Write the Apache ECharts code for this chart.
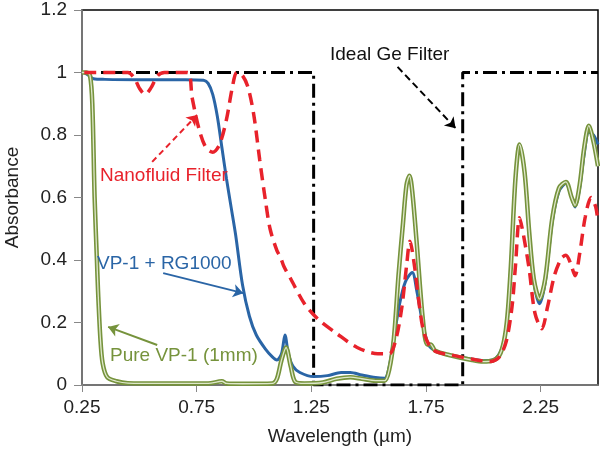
<!DOCTYPE html>
<html><head><meta charset="utf-8">
<script src="https://cdn.jsdelivr.net/npm/echarts@6/dist/echarts.min.js"></script>
<style>html,body{margin:0;padding:0;background:#fff}#c{width:600px;height:450px}</style>
</head><body><div id="c"></div>
<script>
// ---- data ----
var xTicks = [0.25, 0.75, 1.25, 1.75, 2.25];
var yTicks = [0, 0.2, 0.4, 0.6, 0.8, 1, 1.2];

var idealX = [0.25, 1.26, 1.26, 1.91, 1.91, 2.5];
var idealY = [1, 1, 0, 0, 1, 1];

var blueX = [0.26,0.28,0.30,0.35,0.5,0.7,0.78,0.80,0.82,0.84,0.86,0.88,0.90,0.92,0.95,0.98,1.01,1.05,1.08,1.10,1.12,1.135,1.15,1.17,1.20,1.26,1.32,1.38,1.42,1.47,1.53,1.57,1.59,1.61,1.635,1.66,1.69,1.71,1.735,1.76,1.79,1.85,1.95,2.0,2.04,2.07,2.09,2.105,2.12,2.14,2.158,2.18,2.20,2.22,2.245,2.27,2.30,2.33,2.36,2.385,2.40,2.42,2.44,2.46,2.48,2.50];
var blueY = [1.0,0.99,0.98,0.978,0.977,0.977,0.975,0.965,0.93,0.86,0.76,0.66,0.57,0.48,0.32,0.22,0.16,0.115,0.09,0.08,0.10,0.16,0.10,0.06,0.04,0.027,0.03,0.04,0.04,0.032,0.024,0.022,0.06,0.15,0.26,0.33,0.36,0.30,0.2,0.13,0.11,0.096,0.083,0.078,0.08,0.10,0.14,0.22,0.38,0.66,0.77,0.68,0.48,0.33,0.26,0.33,0.52,0.62,0.645,0.6,0.57,0.63,0.74,0.81,0.80,0.77];

var greenX = [0.25,0.27,0.285,0.295,0.305,0.315,0.32,0.33,0.34,0.36,0.40,0.45,0.6,0.8,0.86,0.88,0.95,1.08,1.10,1.12,1.14,1.16,1.18,1.22,1.30,1.36,1.42,1.47,1.53,1.57,1.59,1.61,1.63,1.65,1.665,1.678,1.69,1.71,1.735,1.755,1.77,1.79,1.85,1.95,2.0,2.04,2.07,2.09,2.105,2.12,2.14,2.158,2.18,2.20,2.22,2.245,2.27,2.30,2.33,2.36,2.385,2.40,2.42,2.44,2.46,2.48,2.50];
var greenY = [1.0,1.0,0.99,0.9,0.6,0.4,0.3,0.15,0.07,0.025,0.012,0.006,0.005,0.005,0.012,0.005,0.004,0.005,0.02,0.08,0.12,0.06,0.01,0.005,0.008,0.02,0.025,0.02,0.014,0.014,0.05,0.15,0.35,0.52,0.64,0.67,0.62,0.45,0.22,0.13,0.13,0.11,0.096,0.08,0.075,0.078,0.095,0.14,0.22,0.38,0.66,0.77,0.68,0.49,0.34,0.275,0.34,0.53,0.63,0.65,0.6,0.575,0.64,0.76,0.83,0.78,0.70];

var redX = [0.26,0.45,0.48,0.50,0.525,0.55,0.58,0.61,0.71,0.73,0.76,0.79,0.82,0.85,0.88,0.905,0.925,0.95,0.975,1.0,1.025,1.05,1.07,1.10,1.115,1.13,1.16,1.22,1.28,1.36,1.45,1.54,1.59,1.62,1.645,1.665,1.68,1.70,1.72,1.74,1.77,1.80,1.86,1.95,2.03,2.07,2.10,2.125,2.14,2.158,2.175,2.20,2.225,2.255,2.28,2.31,2.34,2.36,2.38,2.40,2.42,2.445,2.47,2.49,2.50];
var redY = [1.0,1.0,0.98,0.95,0.93,0.95,0.99,1.0,1.0,0.92,0.82,0.76,0.745,0.77,0.85,0.95,1.0,0.99,0.95,0.86,0.72,0.59,0.50,0.43,0.41,0.38,0.34,0.26,0.21,0.165,0.12,0.10,0.10,0.15,0.25,0.38,0.46,0.38,0.26,0.17,0.12,0.105,0.096,0.083,0.075,0.09,0.14,0.25,0.38,0.535,0.48,0.37,0.23,0.18,0.25,0.35,0.405,0.415,0.39,0.35,0.42,0.54,0.60,0.57,0.52];

var labels = ["Ideal Ge Filter", "Nanofluid Filter", "VP-1 + RG1000", "Pure VP-1 (1mm)"];
// arrows [from, to] in data coordinates
var arrowIdeal = [[1.626, 1.018], [1.879, 0.822]];
var arrowNano = [[0.556, 0.714], [0.752, 0.864]];
var arrowBlue = [[0.604, 0.358], [0.953, 0.294]];
var arrowGreen = [[0.578, 0.128], [0.364, 0.186]];

function zip(a, b) { return a.map(function (v, i) { return [v, b[i]]; }); }

var FONT = 'Liberation Sans, Arial, sans-serif';
var C_BLUE = '#2a65a6', C_RED = '#e8222b', C_GREEN = '#76933c', C_GREEN_IN = '#dfe8cc';

function arrowML(pair, color, type) {
  return {
    silent: true, symbol: ['none', 'arrow'], symbolSize: [10, 10],
    label: { show: false },
    emphasis: { disabled: true },
    lineStyle: { color: color, width: 2, type: type },
    data: [[{ coord: pair[0] }, { coord: pair[1] }]]
  };
}

var chart = echarts.init(document.getElementById('c'), null, { renderer: 'canvas' });
chart.setOption({
  animation: false,
  backgroundColor: '#fff',
  grid: { left: 82, right: 2, top: 10, bottom: 65, containLabel: false, outerBoundsMode: 'none',
    show: true, borderColor: '#000', borderWidth: 1.5 },
  xAxis: {
    type: 'value', min: 0.25, max: 2.5, interval: 0.5,
    name: 'Wavelength (µm)', nameLocation: 'middle', nameGap: 42,
    nameTextStyle: { fontFamily: FONT, fontSize: 19, color: '#222' },
    axisLine: { lineStyle: { color: '#888', width: 1.5 } },
    axisTick: { show: true, inside: false, length: 7, lineStyle: { color: '#888' } },
    axisLabel: { fontFamily: FONT, fontSize: 19, color: '#222', margin: 13, showMaxLabel: false,
      formatter: function (v) { return xTicks.indexOf(Math.round(v * 100) / 100) >= 0 ? v.toFixed(2) : ''; } },
    splitLine: { show: false }
  },
  yAxis: {
    type: 'value', min: 0, max: 1.2, interval: 0.2,
    name: 'Absorbance', nameLocation: 'middle', nameGap: 60, nameRotate: 90,
    nameTextStyle: { fontFamily: FONT, fontSize: 19, color: '#222' },
    axisLine: { show: true, lineStyle: { color: '#888', width: 1.5 } },
    axisTick: { show: true, inside: false, length: 8, lineStyle: { color: '#888' } },
    axisLabel: { fontFamily: FONT, fontSize: 19, color: '#222', margin: 15,
      formatter: function (v) { var r = Math.round(v * 10) / 10; return yTicks.indexOf(r) >= 0 ? String(r) : ''; } },
    splitLine: { show: false }
  },
  series: [
    { type: 'line', name: 'Ideal Ge Filter', data: zip(idealX, idealY), symbol: 'none', z: 2,
      lineStyle: { color: '#000', width: 3, type: [14, 5, 3, 5] },
      markLine: arrowML(arrowIdeal, '#000', [7, 4]) },
    { type: 'line', name: 'VP-1 + RG1000', data: zip(blueX, blueY), symbol: 'none', z: 3, smooth: 0.3,
      lineStyle: { color: C_BLUE, width: 3 },
      markLine: arrowML(arrowBlue, C_BLUE, 'solid') },
    { type: 'line', name: 'Pure VP-1 (1mm)', data: zip(greenX, greenY), symbol: 'none', z: 4, smooth: 0.3,
      lineStyle: { color: C_GREEN, width: 4.5 },
      markLine: arrowML(arrowGreen, C_GREEN, 'solid') },
    { type: 'line', name: 'Pure VP-1 inner', data: zip(greenX, greenY), symbol: 'none', z: 5, smooth: 0.3,
      lineStyle: { color: C_GREEN_IN, width: 1.3 } },
    { type: 'line', name: 'Nanofluid Filter', data: zip(redX, redY), symbol: 'none', z: 6, smooth: 0.3,
      lineStyle: { color: C_RED, width: 3.5, type: [12, 7] },
      markLine: arrowML(arrowNano, C_RED, [6, 4]) }
  ],
  graphic: [
    { type: 'text', left: 330, top: 45, z: 100, style: { text: labels[0], fontFamily: FONT, fontSize: 19, fill: '#111' } },
    { type: 'text', left: 100, top: 166, z: 100, style: { text: labels[1], fontFamily: FONT, fontSize: 19, fill: C_RED } },
    { type: 'text', left: 97, top: 254, z: 100, style: { text: labels[2], fontFamily: FONT, fontSize: 19, fill: C_BLUE } },
    { type: 'text', left: 110, top: 346, z: 100, style: { text: labels[3], fontFamily: FONT, fontSize: 19, fill: C_GREEN } }
  ]
});
</script></body></html>
